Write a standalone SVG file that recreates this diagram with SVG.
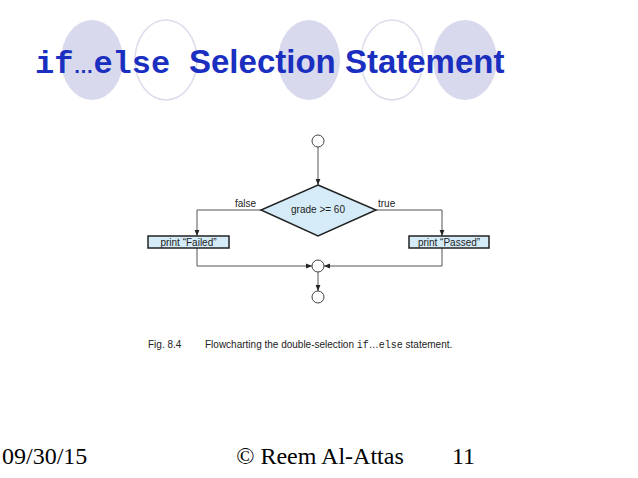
<svg xmlns="http://www.w3.org/2000/svg" width="638" height="478" viewBox="0 0 638 478">
<defs>
<marker id="ah" viewBox="0 0 10 10" refX="10" refY="5" markerWidth="6" markerHeight="6" orient="auto"><path d="M0,1 L10,5 L0,9 z" fill="#222"/></marker>
<style>
.d{fill:#d9d9ee}.o{fill:none;stroke:#dcdcec;stroke-width:1.5}
.n{fill:#d5ecf8;stroke:#222;stroke-width:1.5}
.c{fill:#fff;stroke:#444;stroke-width:1}
.t{font-family:"Liberation Sans",Arial,sans-serif;font-size:10px;fill:#222}
.e{fill:none;stroke:#555;stroke-width:1;marker-end:url(#ah)}
.f{font-family:"Liberation Serif",serif;font-size:24px;fill:#000}
</style>
</defs>
<rect width="638" height="478" fill="#fff"/>
<ellipse class="d" cx="92" cy="60" rx="31" ry="40"/>
<ellipse class="o" cx="166" cy="60" rx="31" ry="40"/>
<ellipse class="d" cx="309" cy="60" rx="31" ry="40"/>
<ellipse class="o" cx="392" cy="60" rx="31" ry="40"/>
<ellipse class="d" cx="465" cy="60" rx="32" ry="40"/>
<text y="73" font-weight="bold" fill="#1a2fbf"><tspan x="35" font-family="Liberation Mono,monospace" font-size="32">if</tspan><tspan font-family="Liberation Sans,sans-serif" font-size="20">…</tspan><tspan font-family="Liberation Mono,monospace" font-size="32">else</tspan><tspan x="189" font-family="Liberation Sans,Arial,sans-serif" font-size="33">Selection Statement</tspan></text>
<g id="connectors">
<line class="e" x1="318" y1="147" x2="318" y2="185"/>
<polyline class="e" points="261,210 197,210 197,236"/>
<polyline class="e" points="376,210 442,210 442,236"/>
<polyline class="e" points="197,248 197,266 312,266"/>
<polyline class="e" points="442,248 442,266 324,266"/>
<line class="e" x1="318" y1="272" x2="318" y2="291"/>
</g>
<g id="start"><circle class="c" cx="318" cy="141" r="6"/></g>
<g id="decision"><polygon class="n" points="318,185 376,210 318,236 261,210"/><text class="t" x="318" y="213" text-anchor="middle">grade &gt;= 60</text></g>
<text class="t" x="256" y="207" text-anchor="end">false</text>
<text class="t" x="378" y="207">true</text>
<g id="failed"><rect class="n" x="148" y="236" width="81" height="12"/><text class="t" x="188.500" y="245.500" text-anchor="middle">print “Failed”</text></g>
<g id="passed"><rect class="n" x="409" y="236" width="80" height="12"/><text class="t" x="449" y="245.500" text-anchor="middle">print “Passed”</text></g>
<g id="merge"><circle class="c" cx="318" cy="266" r="6"/></g>
<g id="end"><circle class="c" cx="318" cy="297" r="6"/></g>
<text class="t" x="148" y="348" font-size="11">Fig. 8.4</text>
<text class="t" x="205" y="348" font-size="11">Flowcharting the double-selection <tspan font-family="Liberation Mono,monospace">if</tspan>…<tspan font-family="Liberation Mono,monospace">else</tspan> statement.</text>
<text class="f" x="2" y="464">09/30/15</text>
<text class="f" x="320" y="464" text-anchor="middle">© Reem Al-Attas</text>
<text class="f" x="452" y="464">11</text>
</svg>
